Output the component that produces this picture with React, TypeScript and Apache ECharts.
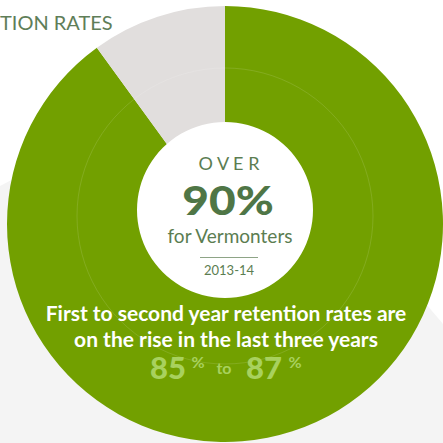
import React, { useEffect, useRef } from "react";
import * as echarts from "echarts";

const sliceNames = ["Retained", "Not retained"];
const sliceValues = [90, 10];
const sliceColors = ["#72a000", "#e1dedd"];

const titleText = "TION RATES";
const centerLines = ["O V E R", "90%", "for Vermonters", "2013-14"];
const noteLines = [
  "First to second year retention rates are",
  "on the rise in the last three years",
];
const riseFrom = "85";
const riseTo = "87";

export default function App() {
  const ref = useRef<HTMLDivElement>(null);
  useEffect(() => {
    document.body.style.margin = "0";
    const chart = echarts.init(ref.current!, undefined, { renderer: "svg" });
    const dark = "#5b7d51";
    const light = "#a8d15e";
    const font = "Lato";
    chart.setOption({
      animation: false,
      backgroundColor: "#ffffff",
      series: [
        {
          type: "pie",
          center: [225, 224],
          radius: [0, 218],
          startAngle: 90,
          clockwise: true,
          silent: true,
          label: { show: false },
          labelLine: { show: false },
          emphasis: { disabled: true },
          itemStyle: { borderWidth: 0 },
          z: 2,
          data: sliceValues.map((v, i) => ({
            name: sliceNames[i],
            value: v,
            itemStyle: { color: sliceColors[i] },
          })),
        },
      ],
      graphic: [
        {
          type: "polygon",
          z: -10,
          silent: true,
          shape: {
            points: [
              [0, 186],
              [226, 68],
              [443, 324],
              [443, 443],
              [0, 443],
            ],
          },
          style: { fill: "#f4f4f4" },
        },
        {
          type: "text",
          z: 10,
          x: 0,
          y: 22,
          style: {
            text: titleText,
            fill: "#5f7e58",
            font: `20px ${font}`,
            textVerticalAlign: "middle",
          },
        },
        {
          type: "circle",
          z: 5,
          silent: true,
          shape: { cx: 225, cy: 216, r: 148 },
          style: { fill: "none", stroke: "rgba(255,255,255,0.12)", lineWidth: 1 },
        },
        {
          type: "circle",
          z: 10,
          shape: { cx: 225, cy: 210, r: 88 },
          style: { fill: "#ffffff" },
        },
        {
          type: "text",
          z: 11,
          x: 229,
          y: 163,
          style: {
            text: centerLines[0],
            fill: dark,
            font: `18px ${font}`,
            textAlign: "center",
            textVerticalAlign: "middle",
          },
        },
        {
          type: "text",
          z: 11,
          x: 228,
          y: 199,
          scaleX: 1.15,
          originX: 0,
          originY: 0,
          style: {
            text: centerLines[1],
            fill: "#4f7646",
            font: `900 40px ${font}`,
            textAlign: "center",
            textVerticalAlign: "middle",
          },
        },
        {
          type: "text",
          z: 11,
          x: 230,
          y: 235.5,
          style: {
            text: centerLines[2],
            fill: dark,
            font: `19px ${font}`,
            textAlign: "center",
            textVerticalAlign: "middle",
          },
        },
        {
          type: "line",
          z: 11,
          shape: { x1: 200, y1: 257.5, x2: 258, y2: 257.5 },
          style: { stroke: "#8ea486", lineWidth: 1 },
        },
        {
          type: "text",
          z: 11,
          x: 229,
          y: 270,
          style: {
            text: centerLines[3],
            fill: dark,
            font: `13px ${font}`,
            textAlign: "center",
            textVerticalAlign: "middle",
          },
        },
        ...noteLines.map((t, i) => ({
          type: "text",
          z: 11,
          x: 226,
          y: 312 + i * 26,
          style: {
            text: t,
            fill: "#ffffff",
            font: `bold 21px ${font}`,
            textAlign: "center",
            textVerticalAlign: "middle",
          },
        })),
        {
          type: "text",
          z: 11,
          x: 168,
          y: 367,
          style: {
            text: riseFrom,
            fill: light,
            font: `900 31px ${font}`,
            textAlign: "center",
            textVerticalAlign: "middle",
          },
        },
        {
          type: "text",
          z: 11,
          x: 198,
          y: 361,
          style: {
            text: "%",
            fill: light,
            font: `bold 16px ${font}`,
            textAlign: "center",
            textVerticalAlign: "middle",
          },
        },
        {
          type: "text",
          z: 11,
          x: 224,
          y: 367,
          style: {
            text: "to",
            fill: light,
            font: `bold 16px ${font}`,
            textAlign: "center",
            textVerticalAlign: "middle",
          },
        },
        {
          type: "text",
          z: 11,
          x: 264,
          y: 367,
          style: {
            text: riseTo,
            fill: light,
            font: `900 31px ${font}`,
            textAlign: "center",
            textVerticalAlign: "middle",
          },
        },
        {
          type: "text",
          z: 11,
          x: 295,
          y: 361,
          style: {
            text: "%",
            fill: light,
            font: `bold 16px ${font}`,
            textAlign: "center",
            textVerticalAlign: "middle",
          },
        },
      ],
    });
    return () => chart.dispose();
  }, []);
  return <div ref={ref} style={{ width: 443, height: 443 }} />;
}
